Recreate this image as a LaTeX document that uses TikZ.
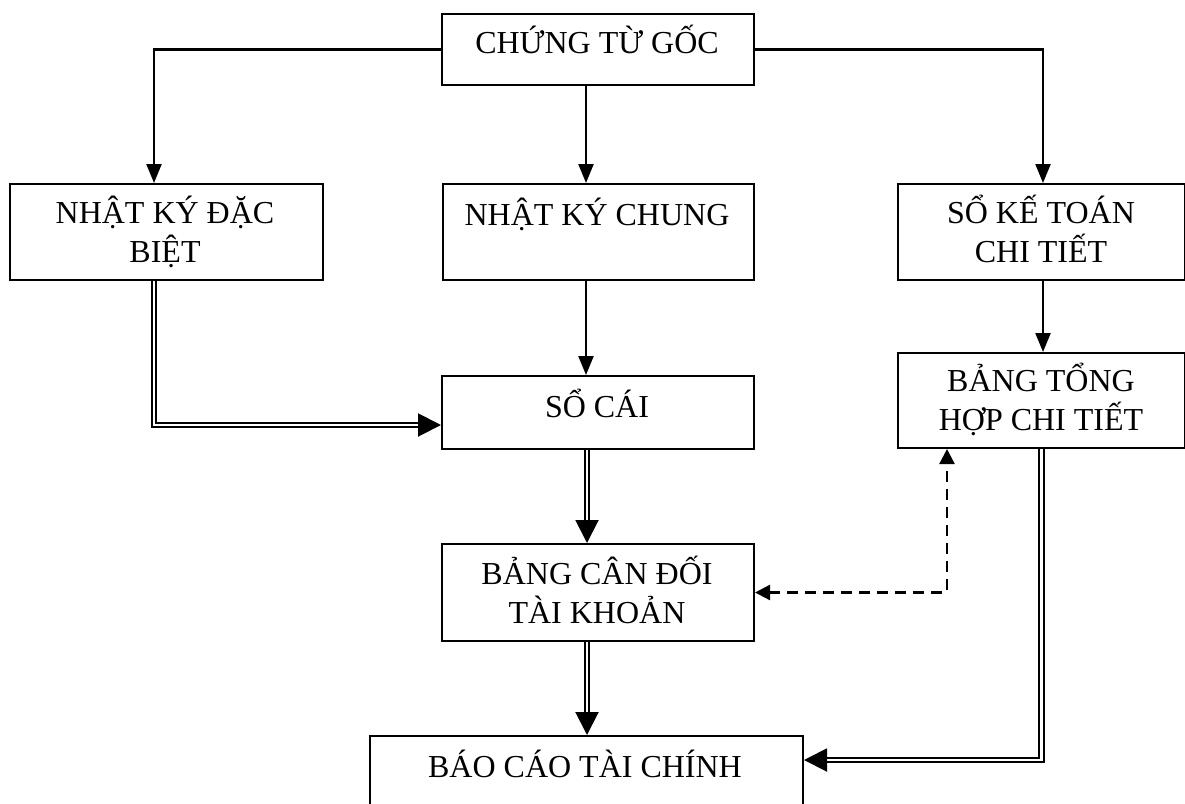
\documentclass[tikz,border=0pt]{standalone}
\usepackage{fontspec}
\setmainfont{Liberation Serif}
\usetikzlibrary{arrows.meta,calc}
\begin{document}
\begin{tikzpicture}[x=1pt,y=-1pt,
  box/.style={draw,line width=2pt,inner sep=0pt,anchor=north west},
  lbl/.style={anchor=base,inner sep=0pt,align=center,font=\fontsize{32}{39}\selectfont},
  arr/.style={line width=2.3pt,-{Triangle[length=19pt,width=15pt]}},
  dbl/.style={double,line width=2pt,double distance=2.5pt,-{Triangle[length=23pt,width=23pt]}},
  dsh/.style={line width=2.3pt,dash pattern=on 11pt off 7pt,{Triangle[length=15pt,width=15pt]}-{Triangle[length=15pt,width=15pt]}}]
\path[use as bounding box,clip] (0,0) rectangle (1185,803);
% boxes
\node[box,minimum width=312pt,minimum height=71pt] (ctg) at (441,13) {};
\node[box,minimum width=313pt,minimum height=96pt] (nkdb) at (9,183) {};
\node[box,minimum width=311pt,minimum height=96pt] (nkc) at (442,183) {};
\node[box,minimum width=287pt,minimum height=96pt] (skt) at (897,183) {};
\node[box,minimum width=312pt,minimum height=73pt] (sc) at (441,375) {};
\node[box,minimum width=287pt,minimum height=95pt] (btth) at (897,352) {};
\node[box,minimum width=312pt,minimum height=97pt] (bcd) at (441,543) {};
\node[box,minimum width=433pt,minimum height=110pt] (bctc) at (369,735) {};
% labels (base = baseline of last line)
\node[lbl] (t-ctg) at (597,53) {CHỨNG TỪ GỐC};
\node[lbl] (t-nkdb) at (165,262) {NHẬT KÝ ĐẶC\\BIỆT};
\node[lbl] (t-nkc) at (597,225) {NHẬT KÝ CHUNG};
\node[lbl] (t-skt) at (1041,262) {SỔ KẾ TOÁN\\CHI TIẾT};
\node[lbl] (t-sc) at (597,417) {SỔ CÁI};
\node[lbl] (t-btth) at (1041,430) {BẢNG TỔNG\\HỢP CHI TIẾT};
\node[lbl] (t-bcd) at (597,623) {BẢNG CÂN ĐỐI\\TÀI KHOẢN};
\node[lbl] (t-bctc) at (585,777) {BÁO CÁO TÀI CHÍNH};
% connectors
\draw[arr] (ctg.west) -| ([xshift=-12.5pt]nkdb.north);
\draw[arr] (ctg.east) -| ([xshift=1.5pt]skt.north);
\draw[arr] ([xshift=-12pt]ctg.south) -- ([xshift=-12.5pt]nkc.north);
\draw[arr] ([xshift=-12.5pt]nkc.south) -- ([xshift=-12pt]sc.north);
\draw[arr] ([xshift=1.5pt]skt.south) -- ([xshift=1.5pt]btth.south |- btth.north);
\draw[dbl] ([xshift=-12.5pt]nkdb.south) |- ([yshift=-12.5pt]sc.west);
\draw[dbl] ([xshift=-11pt]sc.south) -- ([xshift=-11pt]bcd.north);
\draw[dbl] ([xshift=-11pt]bcd.south) -- ([xshift=0.5pt]bctc.north);
\draw[dbl] (btth.south) |- ([yshift=-25pt]bctc.north east);
\draw[dsh] (bcd.east) -| ([xshift=-94.5pt]btth.south);
\end{tikzpicture}
\end{document}
